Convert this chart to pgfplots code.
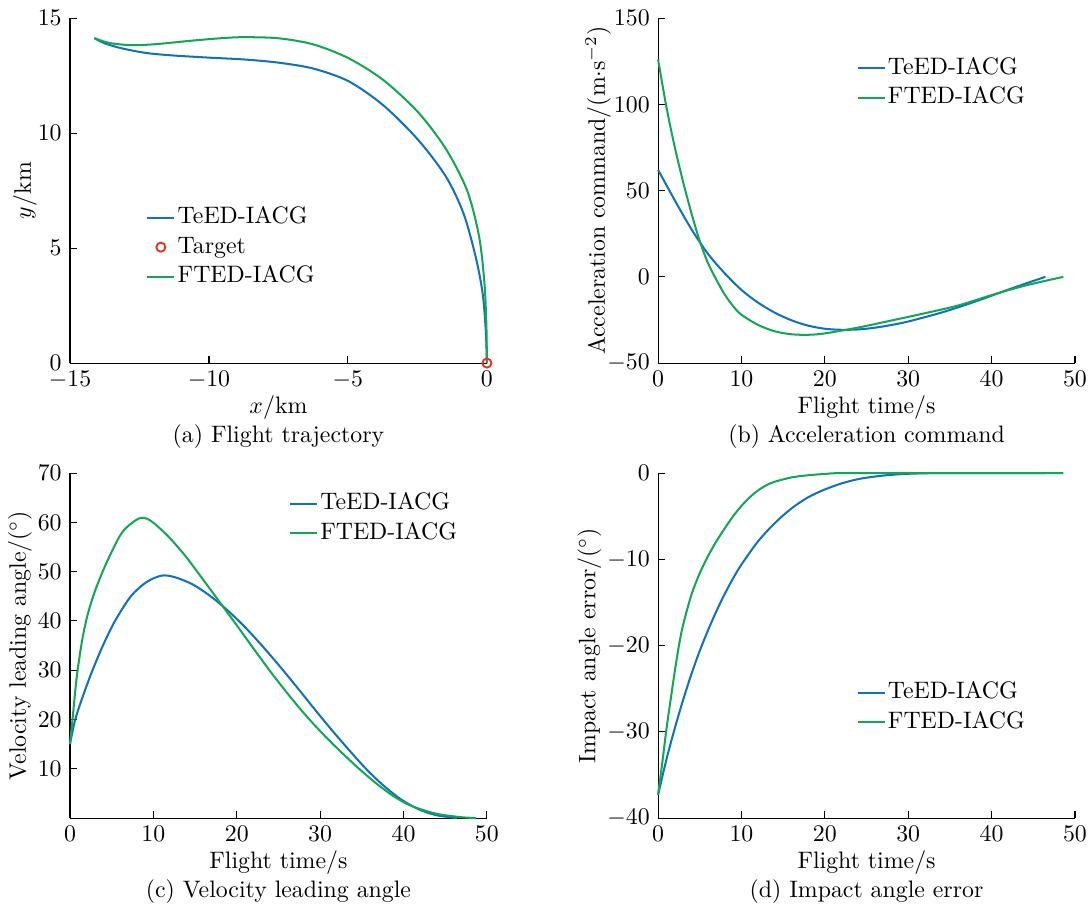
\documentclass[border=0pt]{standalone}
\usepackage{pgfplots}
\pgfplotsset{compat=1.18}
\definecolor{cblue}{RGB}{16,114,189}
\definecolor{cgreen}{RGB}{16,168,82}
\definecolor{cred}{RGB}{230,50,30}
\pgfplotsset{
  myaxis/.style={
    scale only axis, width=175.1pt, height=144.9pt,
    axis x line*=bottom, axis y line*=left,
    axis line style={-, black, line width=0.45pt},
    tick align=inside, major tick length=3pt,
    tick style={black, line width=0.45pt},
    clip=false,
    legend cell align=left,
    legend style={draw=none, fill=none, anchor=west,
      nodes={inner sep=1pt, text height=7pt, text depth=2pt},
      row sep=1.4pt, font=\normalsize},
    legend image code/.code={\draw[#1] (0pt,0pt) -- (11.3pt,0pt);},
    xlabel style={at={(axis description cs:0.5,-0.128)}, anchor=center},
  },
  tb/.style={cblue, line width=0.85pt},
  tg/.style={cgreen, line width=0.85pt},
}
\begin{document}
\begin{tikzpicture}
\path[use as bounding box] (0,0) rectangle (458.64pt,382.2pt);
% (a)
\begin{axis}[myaxis, at={(29.4pt,229.7pt)}, anchor=south west,
  xmin=-15, xmax=0, ymin=0, ymax=15,
  xtick={-15,-10,-5,0}, ytick={0,5,10,15},
  xlabel={$x$/km}, ylabel={$y$/km},
  ylabel style={at={(axis description cs:-0.108,0.5)}, anchor=center},
  legend style={at={(axis description cs:0.165,0.336)}},
]
\addplot[tb, smooth] coordinates {(-14.12,14.13) (-13.75,13.90) (-13.12,13.68) (-12.24,13.48) (-11.24,13.37) (-9.99,13.28) (-8.73,13.20) (-7.48,13.06) (-6.23,12.80) (-4.97,12.25) (-3.72,11.20) (-2.47,9.70) (-1.47,8.10) (-0.84,6.50) (-0.40,4.60) (-0.15,3.00) (-0.04,1.40) (0,0)};
\addlegendentry{TeED-IACG}
\addplot[only marks, mark=o, mark size=1.9pt, cred, line width=0.8pt,
  legend image code/.code={\draw[cred, line width=0.8pt] (5.65pt,0pt) circle (1.9pt);}] coordinates {(0,0)};
\addlegendentry{Target}
\addplot[tg, smooth] coordinates {(-14.12,14.13) (-13.75,13.97) (-13.37,13.88) (-12.74,13.82) (-11.87,13.87) (-10.61,14.02) (-9.5,14.13) (-8.73,14.17) (-7.48,14.12) (-6.23,13.85) (-4.97,13.25) (-3.72,12.30) (-2.47,10.90) (-1.47,9.30) (-0.71,7.50) (-0.28,5.50) (-0.09,3.50) (-0.02,1.70) (0,0)};
\addlegendentry{FTED-IACG}
\node at (rel axis cs:0.5,-0.214) {(a) Flight trajectory};
\end{axis}
% (b)
\begin{axis}[myaxis, at={(276.4pt,229.7pt)}, anchor=south west,
  xmin=0, xmax=50, ymin=-50, ymax=150,
  xtick={0,10,...,50}, ytick={-50,0,50,100,150},
  xlabel={Flight time/s}, ylabel={Acceleration command/(m$\cdot$s$^{-2}$)},
  ylabel style={at={(axis description cs:-0.144,0.5)}, anchor=center},
  legend style={at={(axis description cs:0.458,0.812)}},
]
\addplot[tb, smooth] coordinates {(0,62) (2,44.4) (4,27.6) (6,13.2) (8,2.0) (10,-7.6) (12,-15.0) (14,-20.8) (16,-25.2) (18,-28.3) (20,-30.1) (22,-30.7) (24,-30.5) (26,-29.5) (28,-27.9) (30,-25.9) (34,-20.7) (38,-14.4) (42,-7.4) (44.5,-3.2) (46.45,0)};
\addlegendentry{TeED-IACG}
\addplot[tg, smooth] coordinates {(0,126) (1,98.4) (2,75.2) (3,55.0) (4,36.9) (5,20.6) (6,7.8) (7,-1.8) (8,-10.3) (9,-17.0) (10,-22.0) (12,-27.9) (14,-31.6) (16,-33.3) (18,-33.6) (20,-32.8) (24,-29.4) (28,-25.3) (32,-21.1) (36,-16.6) (40,-10.6) (44,-5.1) (48.6,0)};
\addlegendentry{FTED-IACG}
\node at (rel axis cs:0.5,-0.214) {(b) Acceleration command};
\end{axis}
% (c)
\begin{axis}[myaxis, at={(29.4pt,38.6pt)}, anchor=south west,
  xmin=0, xmax=50, ymin=0, ymax=70,
  xtick={0,10,...,50}, ytick={10,20,...,70},
  xlabel={Flight time/s}, ylabel={Velocity leading angle/($^\circ$)},
  ylabel style={at={(axis description cs:-0.12,0.5)}, anchor=center},
  legend style={at={(axis description cs:0.507,0.869)}},
]
\addplot[tb, smooth] coordinates {(0,15) (0.63,20) (1.6,25) (2.7,30) (4.0,35.2) (5.4,40) (7.3,45) (9.19,47.9) (10.99,49.2) (12.53,48.9) (14.62,47.5) (16.71,45.2) (18.8,42.3) (20.9,38.9) (22.97,35.1) (25.06,31.0) (27.15,26.7) (29.24,22.3) (31.33,18.0) (33.42,13.9) (35.5,10.0) (37.6,6.6) (39.7,3.8) (41.8,1.8) (43.9,0.6) (46.4,0)};
\addlegendentry{TeED-IACG}
\addplot[tg, smooth] coordinates {(0,15) (0.3,20) (0.8,28.5) (1.4,35.5) (2.0,40.5) (2.7,44.6) (3.5,48.3) (4.6,52.6) (6.27,58.0) (8.27,60.8) (9.61,60.4) (11.7,57.3) (13.78,53.3) (15.87,48.6) (17.96,43.8) (20.05,39.0) (22.14,34.1) (24.23,29.3) (26.32,24.8) (28.4,20.6) (30.49,16.8) (32.58,13.3) (34.67,10.0) (36.76,7.0) (38.85,4.4) (40.9,2.5) (43.9,0.9) (46.8,0.2) (48.7,0)};
\addlegendentry{FTED-IACG}
\node at (rel axis cs:0.5,-0.214) {(c) Velocity leading angle};
\end{axis}
% (d)
\begin{axis}[myaxis, at={(276.4pt,38.6pt)}, anchor=south west,
  xmin=0, xmax=50, ymin=-40, ymax=0,
  xtick={0,10,...,50}, ytick={-40,-30,...,0},
  xlabel={Flight time/s}, ylabel={Impact angle error/($^\circ$)},
  ylabel style={at={(axis description cs:-0.165,0.5)}, anchor=center},
  legend style={at={(axis description cs:0.458,0.32)}},
]
\addplot[tb, smooth] coordinates {(0,-37.3) (1,-33.2) (2,-29.6) (3,-26.3) (4,-23.3) (5,-20.6) (6,-18.2) (7,-16.0) (8,-14.0) (9,-12.2) (10,-10.6) (12,-7.9) (14,-5.8) (16,-4.1) (18,-2.8) (20,-1.9) (22,-1.2) (24,-0.7) (26,-0.4) (28,-0.2) (30,-0.08) (34,0) (46.45,0)};
\addlegendentry{TeED-IACG}
\addplot[tg, smooth] coordinates {(0,-37.3) (0.5,-33.6) (1,-29.7) (1.5,-26.3) (2,-23.0) (2.5,-20.0) (3,-17.6) (4,-14.1) (5,-11.6) (6,-9.6) (7,-7.9) (8,-6.4) (9,-5.0) (10,-3.8) (11,-2.8) (12,-2.0) (13,-1.4) (14,-1.0) (16,-0.5) (18,-0.25) (20,-0.1) (22,0) (30,0) (48.6,0)};
\addlegendentry{FTED-IACG}
\node at (rel axis cs:0.5,-0.214) {(d) Impact angle error};
\end{axis}
\end{tikzpicture}
\end{document}
